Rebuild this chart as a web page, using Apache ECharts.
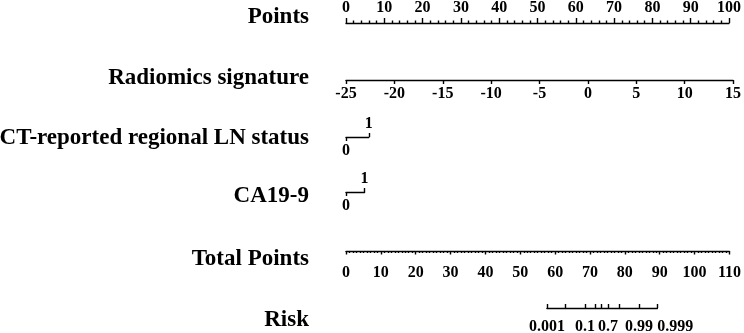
<!DOCTYPE html>
<html>
<head>
<meta charset="utf-8">
<script src="https://cdn.jsdelivr.net/npm/echarts@6/dist/echarts.min.js"></script>
<style>
  html, body { margin: 0; padding: 0; background: #fff; }
  #main { width: 744px; height: 333px; }
</style>
</head>
<body>
<div id="main"></div>
<script>
// row names (left column)
let rowNames = ['Points', 'Radiomics signature', 'CT-reported regional LN status', 'CA19-9', 'Total Points', 'Risk'];

// points scale
let pointsMin = 0, pointsMax = 100;

// radiomics signature: -25 .. 15 spans 0 .. 100 points
let radMin = -25, radMax = 15;
let radPoints = [0, 100];

// binary predictors: value 0 / 1 and their points
let ctValues = [0, 1];
let ctPoints = [0, 5.9];
let caValues = [0, 1];
let caPoints = [0, 4.8];

// total points axis
let totalMin = 0, totalMax = 110;

// risk axis, ticks placed on the total points scale
let riskTicks = [0.001, 0.01, 0.1, 0.3, 0.5, 0.7, 0.9, 0.99, 0.999];
let riskPoints = [57.1, 62.4, 67.9, 70.9, 72.6, 74.5, 77.8, 83.3, 88.5];
let riskShown = [0.001, 0.1, 0.7, 0.99, 0.999];

let chart = echarts.init(document.getElementById('main'));

// layout
const plotLeft = 346, plotWidth = 387;
const font = 'Liberation Serif';
const lineStyle = { color: '#000', width: 1.4 };
const labelStyle = { color: '#000', fontFamily: font, fontWeight: 'bold', fontSize: 16 };

function pxPoints(p) { return plotLeft + p / 100 * plotWidth; }
function pxTotal(t) { return plotLeft + t / totalMax * plotWidth; }

// one grid per row, axis line drawn at "top"
let grids = [
  { left: pxPoints(pointsMin), width: pxPoints(pointsMax) - pxPoints(pointsMin), top: 23, height: 0 },
  { left: pxPoints(radPoints[0]), width: pxPoints(radPoints[1]) - pxPoints(radPoints[0]), top: 80, height: 0 },
  { left: pxPoints(ctPoints[0]), width: pxPoints(ctPoints[1]) - pxPoints(ctPoints[0]), top: 137, height: 0 },
  { left: pxPoints(caPoints[0]), width: pxPoints(caPoints[1]) - pxPoints(caPoints[0]), top: 192, height: 0 },
  { left: pxTotal(totalMin), width: pxTotal(totalMax) - pxTotal(totalMin), top: 251, height: 0 },
  { left: pxTotal(riskPoints[0]), width: pxTotal(riskPoints[riskPoints.length - 1]) - pxTotal(riskPoints[0]), top: 308, height: 0 }
];

function baseAxis(grid, min, max) {
  return {
    type: 'value', gridIndex: grid, position: 'bottom', min: min, max: max,
    axisLine: { show: true, lineStyle: lineStyle },
    axisTick: { show: true, lineStyle: lineStyle },
    axisLabel: Object.assign({ show: true, showMinLabel: true, showMaxLabel: true, hideOverlap: false }, labelStyle),
    splitLine: { show: false }
  };
}

let xAxes = [];

// Points: ticks and labels above
let ax = baseAxis(0, pointsMin, pointsMax);
ax.interval = 10;
ax.axisTick.inside = true; ax.axisTick.length = 5;
ax.axisLabel.inside = true; ax.axisLabel.margin = 7;
ax.minorTick = { show: true, splitNumber: 5, length: 2.5, lineStyle: lineStyle };
xAxes.push(ax);

// Radiomics signature: below
ax = baseAxis(1, radMin, radMax);
ax.interval = 5;
ax.axisTick.length = 4;
ax.axisLabel.margin = 6;
xAxes.push(ax);

// binary rows: 0 below, 1 above
function binaryAxes(grid, values) {
  let lo = baseAxis(grid, values[0], values[1]);
  lo.axisTick.length = 4; lo.axisTick.customValues = [values[0]];
  lo.axisLabel.customValues = [values[0]]; lo.axisLabel.margin = 6;
  let hi = baseAxis(grid, values[0], values[1]);
  hi.axisLine.show = false;
  hi.axisTick.inside = true; hi.axisTick.length = 4; hi.axisTick.customValues = [values[1]];
  hi.axisLabel.inside = true; hi.axisLabel.customValues = [values[1]]; hi.axisLabel.margin = 5;
  return [lo, hi];
}
xAxes = xAxes.concat(binaryAxes(2, ctValues));
xAxes = xAxes.concat(binaryAxes(3, caValues));

// Total Points
ax = baseAxis(4, totalMin, totalMax);
ax.interval = 10;
ax.axisTick.length = 3.5;
ax.axisLabel.margin = 14;
ax.minorTick = { show: true, splitNumber: 10, length: 2, lineStyle: lineStyle };
xAxes.push(ax);

// Risk: ticks above, labels below
function riskLabel(v) {
  let i = 0, best = Infinity;
  riskPoints.forEach((p, k) => { if (Math.abs(p - v) < best) { best = Math.abs(p - v); i = k; } });
  return String(riskTicks[i]);
}
let riskLast = riskTicks.length - 1;
ax = baseAxis(5, riskPoints[0], riskPoints[riskLast]);
ax.axisTick.inside = true; ax.axisTick.length = 4;
ax.axisTick.customValues = riskPoints;
ax.axisLabel.customValues = riskShown.filter(r => r !== riskTicks[riskLast]).map(r => riskPoints[riskTicks.indexOf(r)]);
ax.axisLabel.margin = 11;
ax.axisLabel.formatter = riskLabel;
xAxes.push(ax);
// last risk label sits to the right of its tick
ax = baseAxis(5, riskPoints[0], riskPoints[riskLast]);
ax.axisLine.show = false; ax.axisTick.show = false;
ax.axisLabel.customValues = [riskPoints[riskLast]];
ax.axisLabel.align = 'left';
ax.axisLabel.margin = 11;
ax.axisLabel.formatter = riskLabel;
xAxes.push(ax);

let yAxes = grids.map((g, i) => ({ type: 'value', gridIndex: i, show: false, min: 0, max: 1 }));

// row name positions (vertical centres)
let nameY = [16, 77, 137, 195, 258, 319];
let names = rowNames.map((n, i) => ({
  type: 'text', right: 744 - 309, top: nameY[i] - 10,
  style: { text: n, fill: '#000', font: 'bold 23px "' + font + '"', align: 'right' }
}));

let option = {
  animation: false,
  backgroundColor: '#fff',
  grid: grids,
  xAxis: xAxes,
  yAxis: yAxes,
  graphic: names,
  series: []
};
chart.setOption(option);
</script>
</body>
</html>
